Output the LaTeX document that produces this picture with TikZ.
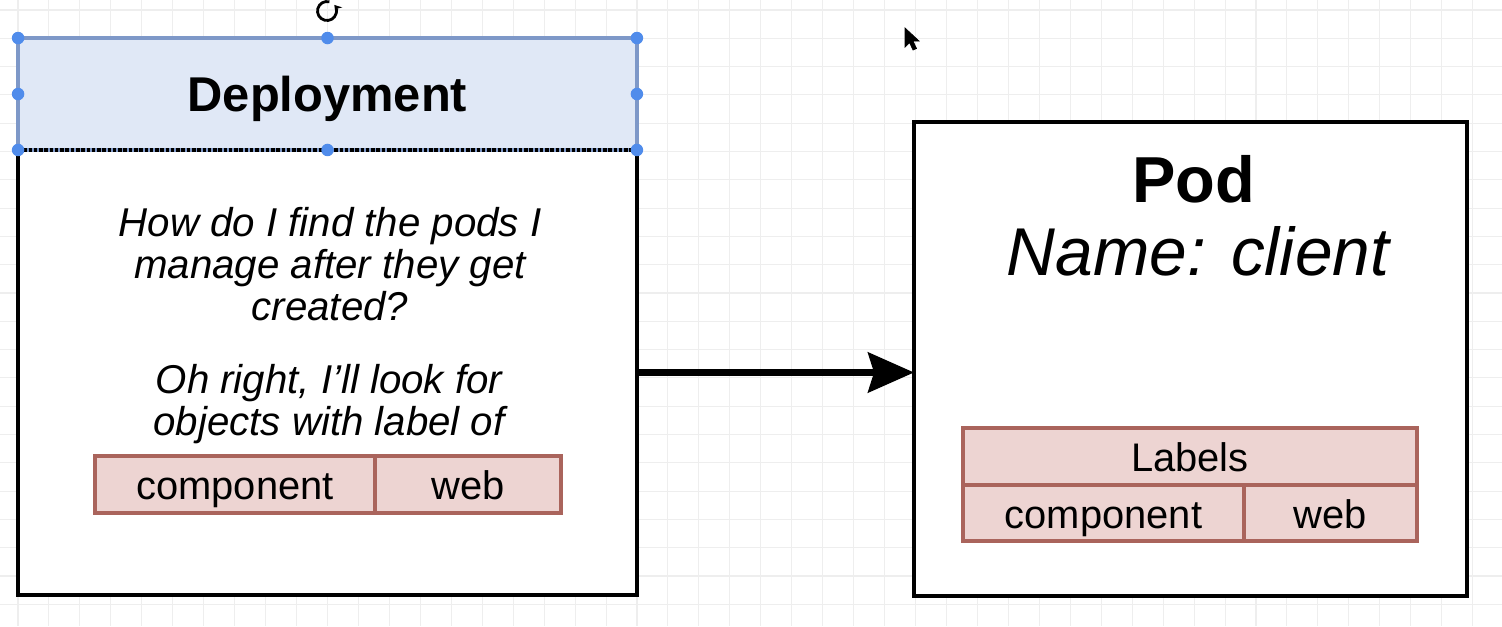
\documentclass[tikz,border=0pt]{standalone}
\usepackage{fontspec}
\setmainfont{Liberation Sans}
\usetikzlibrary{arrows.meta}
\usetikzlibrary{positioning}
\definecolor{selblue}{RGB}{126,152,200}
\definecolor{handleblue}{RGB}{80,140,235}
\definecolor{headfill}{RGB}{224,232,246}
\definecolor{labelfill}{RGB}{237,212,210}
\definecolor{labeldraw}{RGB}{170,100,92}
\definecolor{gridgray}{RGB}{238,238,238}

\tikzset{
  box/.style={draw, line width=2pt, fill=white, inner sep=0pt, outer sep=0pt},
  cell/.style={draw=labeldraw, fill=labelfill, line width=2.2pt, inner sep=0pt, outer sep=0pt,
    minimum height=1.14cm, text height=19.1pt, text depth=2pt, font=\fontsize{22.7}{24}\selectfont},
  handle/.style={circle, fill=handleblue, inner sep=0pt, minimum size=0.25cm},
  note/.style={align=center, font=\fontsize{22.9}{23.9}\selectfont\itshape}
}

\begin{document}
\begin{tikzpicture}[x=0.02cm, y=-0.02cm]
	\useasboundingbox[fill=white] (0,0) rectangle (1502,626);
	% background grid
	\foreach \i in {0,...,47}
		\draw[gridgray, line width=0.6pt] ({18+30.95*\i},0) -- ({18+30.95*\i},626);
	\foreach \i in {0,...,21}
		\draw[gridgray, line width=0.6pt] (0,{10+28.3*\i}) -- (1502,{10+28.3*\i});

	% deployment
	\node[box, minimum width=12.38cm, minimum height=8.9cm] (body) at (327.5,372.5) {};
	\node[box, draw=selblue, line width=2.2pt, fill=headfill, minimum width=12.38cm, minimum height=2.24cm,
		text height=20pt, text depth=0pt, font=\fontsize{27.8}{30}\selectfont\bfseries] (header) at (327.5,94) {Deployment};
	\draw[line width=2pt, dash pattern=on 2pt off 1pt] (header.south west) -- (header.south east);
	\foreach \a [count=\i] in {north west, north, north east, west, east, south west, south, south east}
		\node[handle] (h\i) at (header.\a) {};
	\node[inner sep=0pt] (rot) at (327,11) {};
	\draw[line width=1.6pt, -{Stealth[length=4pt, width=5pt]}] ([shift={(75:0.19cm)}]rot.center)
		arc[start angle=75, end angle=400, radius=0.19cm];

	\node[note] (ask) at (330,264) {How do I find the pods I\\manage after they get\\created?};
	\node[note] (answer) at (329,404) {Oh right, I'll look for\\objects with label of};
	\node[cell, minimum width=5.6cm] (selkey) at (235,484.5) {component};
	\node[cell, minimum width=3.72cm, right=0pt of selkey] (selval) {web};

	% pod
	\node[box, minimum width=11.06cm, minimum height=9.48cm] (pod) at (1190.5,359) {};
	\node[font=\fontsize{37}{40}\selectfont\bfseries] (podtitle) at (1194,179) {Pod};
	\node[font=\fontsize{38.5}{40}\selectfont\itshape] (podname) at (1198,251) {Name: client};
	\node[cell, minimum width=9.08cm] (labels) at (1190,456.5) {Labels};
	\node[cell, minimum width=5.62cm, minimum height=1.12cm, anchor=north west] (podkey) at (labels.south west) {component};
	\node[cell, minimum width=3.46cm, minimum height=1.12cm, right=0pt of podkey] (podval) {web};

	% connector
	\draw[line width=3.6pt, -{Stealth[length=0.92cm, width=0.8cm, inset=0.12cm]}] (body.east) -- (body.east -| pod.west);

	% pointer
	\filldraw[black] (905,28) -- (905,47) -- (909.5,42.5) -- (913,50) -- (916.5,48.5) -- (913,41) -- (919,41) -- cycle;
\end{tikzpicture}
\end{document}
